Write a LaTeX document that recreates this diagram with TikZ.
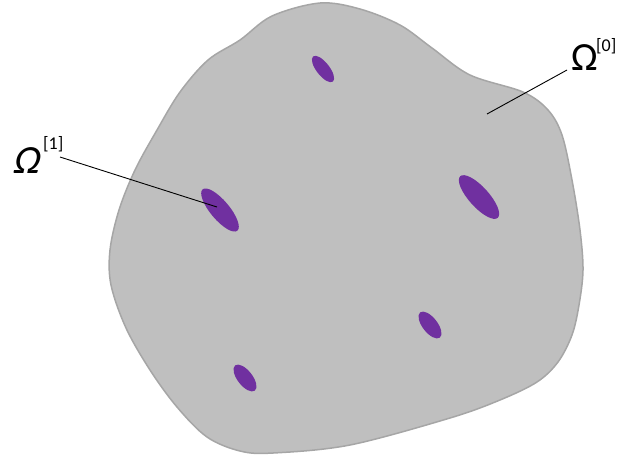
\documentclass[tikz,border=0pt]{standalone}
\usepackage{fontspec}
\setmainfont{Carlito}
\newfontfamily\slantcarlito[FakeSlant=0.22]{Carlito}
\begin{document}
\begin{tikzpicture}[x=1pt,y=-1pt,
  incl/.style={fill=inclc},
  lbl/.style={inner sep=0pt, font=\fontsize{40}{40}\selectfont},
  sup/.style={inner sep=0pt, font=\fontsize{18}{18}\selectfont},
  leader/.style={draw=black, line width=0.9pt}]
\definecolor{inclc}{HTML}{7030A0}
\definecolor{reg}{HTML}{BFBFBF}
\definecolor{regb}{HTML}{A6A6A6}
\useasboundingbox (0,0) rectangle (617,459);
\draw[fill=reg, draw=regb, line width=1.5pt]
  plot[smooth cycle, tension=0.55] coordinates {
  (320,3) (360,9) (400,25) (432,48) (470,75) (523,92) (548,110) (562,135)
  (572,180) (580,230) (583,270) (579,305) (572,335) (558,362) (537,382)
  (500,400) (450,418) (350,445) (273,453) (240,451) (207,437) (177,407)
  (150,370) (126,328) (111,285) (110,250) (119,210) (135,170) (157,130)
  (180,92) (208,60) (240,40) (272,16)};
\fill[incl, rotate around={-52:(323,69)}] (323,69) ellipse [x radius=16, y radius=6.5];
\fill[incl, rotate around={-50:(220,210)}] (220,210) ellipse [x radius=27, y radius=9.5];
\fill[incl, rotate around={-48:(479,197)}] (479,197) ellipse [x radius=28, y radius=10];
\fill[incl, rotate around={-52:(430,325)}] (430,325) ellipse [x radius=16, y radius=7.5];
\fill[incl, rotate around={-52:(245,378)}] (245,378) ellipse [x radius=16, y radius=7.5];
\node[lbl, anchor=base west] (om1) at (12,173) {\slantcarlito Ω};
\node[sup, anchor=base west] (s1) at (43,149) {[1]};
\node[lbl, anchor=base west] (om0) at (571,70) {Ω};
\node[sup, anchor=base west] (s0) at (596,51) {[0]};
\coordinate (a1) at (60,157);
\coordinate (b1) at (217,207);
\coordinate (a0) at (567,70);
\coordinate (b0) at (487,114);
\draw[leader] (a1) -- (b1);
\draw[leader] (a0) -- (b0);
\end{tikzpicture}
\end{document}
